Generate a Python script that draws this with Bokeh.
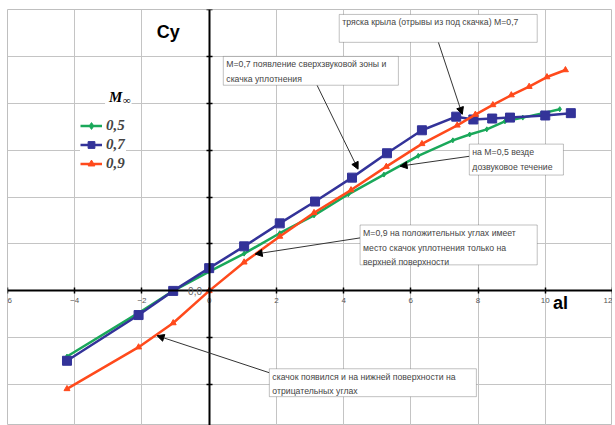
from bokeh.plotting import figure
from bokeh.models import (FixedTicker, Legend, LegendItem, Label, BoxAnnotation, Arrow,
                          NormalHead, CustomJSTickFormatter)
from bokeh.embed import file_html
from bokeh.resources import INLINE

# ---- data ----
alpha_05 = [-4.23, -2.1, -1.07, 0, 1.04, 2.1, 3.12, 4.14, 5.2, 6.22, 7.25, 7.75, 8.26, 8.8, 9.33, 9.9, 10.43]
cy_05 = [-0.28, -0.094, 0.0, 0.082, 0.159, 0.246, 0.322, 0.412, 0.496, 0.576, 0.642, 0.667, 0.689, 0.723, 0.739, 0.757, 0.775]

alpha_07 = [-4.23, -2.1, -1.07, 0, 1.04, 2.1, 3.15, 4.25, 5.29, 6.33, 7.35, 7.86, 8.42, 8.95, 10.0, 10.76]
cy_07 = [-0.298, -0.103, 0.0, 0.097, 0.19, 0.288, 0.381, 0.483, 0.587, 0.685, 0.743, 0.731, 0.735, 0.739, 0.748, 0.758]

alpha_09 = [-4.23, -2.1, -1.07, 0, 1.04, 2.1, 3.12, 4.22, 5.27, 6.33, 7.38, 7.92, 8.44, 8.99, 9.52, 10.05, 10.6]
cy_09 = [-0.418, -0.24, -0.137, 0.0, 0.122, 0.232, 0.333, 0.43, 0.53, 0.627, 0.706, 0.752, 0.793, 0.835, 0.871, 0.912, 0.942]

series_labels = ["0,5", "0,7", "0,9"]
x_ticks = [-6, -4, -2, 0, 2, 4, 6, 8, 10, 12]
y_ticks = [-0.4, -0.2, 0.0, 0.2, 0.4, 0.6, 0.8, 1.0, 1.2]

notes = [
    "тряска крыла (отрывы из под скачка) М=0,7",
    "М=0,7 появление сверхзвуковой зоны и\nскачка уплотнения",
    "на М=0,5 везде\nдозвуковое течение",
    "М=0,9 на положительных углах имеет\nместо скачок уплотнения только на\nверхней поверхности",
    "скачок появился и на нижней поверхности на\nотрицательных углах",
]
# boxes: left, right, top, bottom (data units)
note_boxes = [
    (3.87, 9.76, 1.179, 1.06),
    (0.42, 5.63, 1.0, 0.877),
    (7.74, 10.54, 0.626, 0.494),
    (4.49, 9.76, 0.281, 0.111),
    (1.79, 7.95, -0.332, -0.451),
]
# arrows: x_start, y_start, x_end, y_end
note_arrows = [
    (6.82, 1.06, 7.53, 0.753),
    (3.21, 0.877, 4.43, 0.519),
    (7.74, 0.574, 5.68, 0.532),
    (4.49, 0.226, 1.37, 0.157),
    (1.79, -0.349, -1.55, -0.191),
]

GREEN = "#1aa85a"
BLUE = "#333399"
RED = "#ff4a1c"

p = figure(width=612, height=425, x_range=(-6, 12), y_range=(-0.574, 1.2),
           output_backend="svg", toolbar_location=None,
           min_border_left=7, min_border_top=9, min_border_right=0, min_border_bottom=0)
p.outline_line_color = "#bfbfbf"

p.xaxis.fixed_location = 0
p.yaxis.fixed_location = 0
p.xaxis.ticker = FixedTicker(ticks=x_ticks)
p.yaxis.ticker = FixedTicker(ticks=y_ticks)
p.xgrid.ticker = FixedTicker(ticks=x_ticks)
p.ygrid.ticker = FixedTicker(ticks=y_ticks)
for g in (p.xgrid, p.ygrid):
    g.grid_line_color = "#c4c4c4"
    g.grid_line_width = 1
for ax in (p.xaxis, p.yaxis):
    ax.axis_line_color = "black"
    ax.axis_line_width = 2
    ax.major_tick_line_color = "black"
    ax.major_tick_line_width = 1.5
    ax.major_tick_in = 3
    ax.major_tick_out = 3
    ax.minor_tick_line_color = None
p.xaxis.major_label_text_font = "Liberation Sans"
p.xaxis.major_label_text_font_size = "8px"
p.xaxis.major_label_text_color = "#555555"
p.xaxis.major_label_standoff = 4
p.yaxis.formatter = CustomJSTickFormatter(code="return ''")

r1 = p.line(alpha_05, cy_05, line_color=GREEN, line_width=2.5)
m1 = p.scatter(alpha_05, cy_05, marker="diamond", size=5, color=GREEN)
r2 = p.line(alpha_07, cy_07, line_color=BLUE, line_width=2.5)
m2 = p.scatter(alpha_07, cy_07, marker="square", size=9, color=BLUE)
r3 = p.line(alpha_09, cy_09, line_color=RED, line_width=2.5)
m3 = p.scatter(alpha_09, cy_09, marker="triangle", size=6, color=RED)

legend = Legend(items=[LegendItem(label=series_labels[0], renderers=[r1, m1]),
                       LegendItem(label=series_labels[1], renderers=[r2, m2]),
                       LegendItem(label=series_labels[2], renderers=[r3, m3])],
                location=(73, 253))
legend.label_text_font = "Liberation Serif"
legend.label_text_font_style = "bold italic"
legend.label_text_font_size = "15px"
legend.label_height = 17
legend.glyph_height = 17
legend.glyph_width = 22
legend.spacing = 2
legend.padding = 3
legend.margin = 0
legend.label_standoff = 4
legend.border_line_color = None
legend.background_fill_alpha = 1
p.add_layout(legend, "center")

p.add_layout(Label(x=-2.78, y=0.826, text="M", text_align="center", text_baseline="middle",
                   text_font="Liberation Serif", text_font_style="bold italic",
                   text_font_size="15px", text_color="black",
                   background_fill_color="white", padding=4))
p.add_layout(Label(x=-2.78, y=0.826, x_offset=6, y_offset=-3, text="∞", text_align="left",
                   text_baseline="middle", text_font="Liberation Serif",
                   text_font_style="bold italic", text_font_size="11px", text_color="black",
                   background_fill_color="white", padding=1))

for (l, r, t, b), txt in zip(note_boxes, notes):
    p.add_layout(BoxAnnotation(left=l, right=r, top=t, bottom=b, fill_color="white",
                               fill_alpha=1, line_color="#333333", line_width=1, level="overlay"))
    p.add_layout(Label(x=l, y=t, x_offset=3, y_offset=-3, text=txt, text_baseline="top",
                       text_font="Liberation Sans", text_font_size="8.7px",
                       text_color="#444444", text_line_height=1.45, level="overlay"))

for xs, ys, xe, ye in note_arrows:
    p.add_layout(Arrow(end=NormalHead(size=7, fill_color="black", line_color="black"),
                       x_start=xs, y_start=ys, x_end=xe, y_end=ye,
                       line_color="#333333", line_width=1))

p.add_layout(Label(x=-0.42, y=0, text="0,0", text_align="center", text_baseline="middle",
                   text_font="Liberation Sans", text_font_size="10px", text_color="#666666"))
p.add_layout(Label(x=-1.22, y=1.106, text="Cy", text_align="center", text_baseline="middle",
                   text_font="Liberation Sans", text_font_style="bold", text_font_size="18px",
                   text_color="black"))
p.add_layout(Label(x=10.45, y=-0.051, text="al", text_align="center", text_baseline="middle",
                   text_font="Liberation Sans", text_font_style="bold", text_font_size="18px",
                   text_color="black"))

open("out.html", "w").write(file_html(p, INLINE))
